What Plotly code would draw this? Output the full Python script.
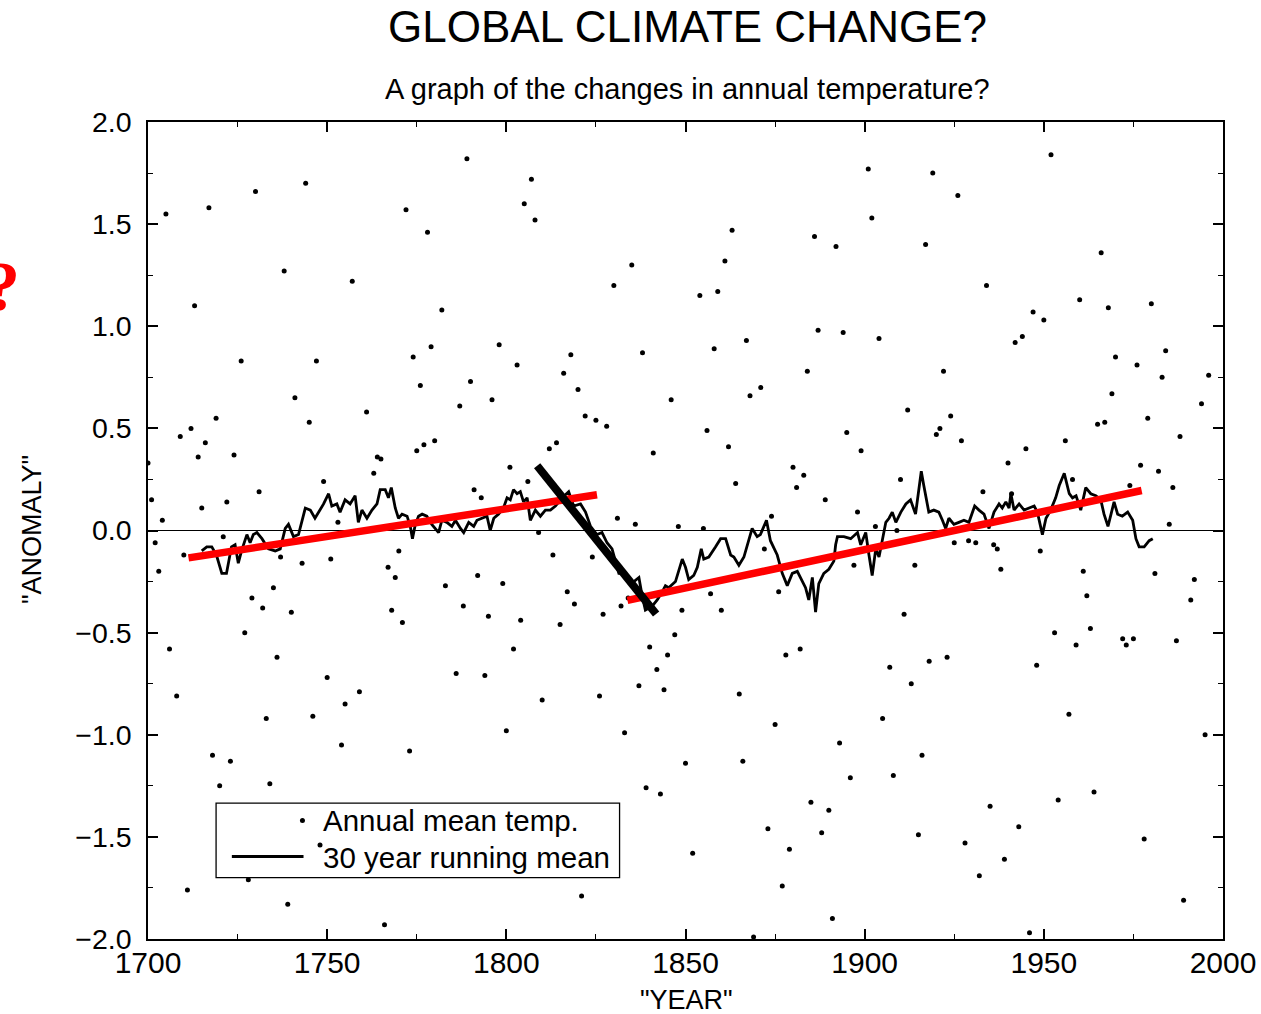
import plotly.graph_objects as go

# ---------------- data ----------------
# Annual mean temperature anomaly (dots)
annual_years = [
    1700, 1701, 1702, 1703, 1704, 1705, 1706, 1708, 1709,
    1710, 1711, 1712, 1713, 1714, 1715, 1716, 1717, 1718, 1719,
    1720, 1721, 1722, 1723, 1724, 1726, 1727, 1728, 1729,
    1730, 1731, 1732, 1733, 1734, 1735, 1736, 1737, 1738, 1739,
    1740, 1741, 1743, 1744, 1745, 1746, 1747, 1748, 1749,
    1750, 1751, 1753, 1754, 1755, 1757, 1759,
    1761, 1763, 1764, 1765, 1766, 1767, 1768, 1769,
    1770, 1771, 1772, 1773, 1774, 1775, 1776, 1777, 1778, 1779,
    1780, 1782, 1783, 1786, 1787, 1788, 1789,
    1790, 1791, 1792, 1793, 1794, 1795, 1796, 1798, 1799,
    1800, 1801, 1802, 1803, 1804, 1805, 1806, 1807, 1808, 1809,
    1810, 1812, 1813, 1814, 1815, 1816, 1817, 1818, 1819,
    1820, 1821, 1822, 1824, 1825, 1826, 1827, 1828,
    1830, 1831, 1832, 1833, 1834, 1835, 1836, 1837, 1838, 1839,
    1840, 1841, 1842, 1843, 1844, 1845, 1846, 1847, 1848, 1849,
    1850, 1852, 1854, 1855, 1856, 1857, 1858, 1859,
    1860, 1861, 1862, 1863, 1864, 1865, 1866, 1867, 1868, 1869,
    1871, 1872, 1873, 1874, 1875, 1876, 1877, 1878, 1879,
    1880, 1881, 1882, 1883, 1884, 1885, 1886, 1887, 1888, 1889,
    1890, 1891, 1892, 1893, 1894, 1895, 1896, 1897, 1898, 1899,
    1901, 1902, 1903, 1904, 1905, 1907, 1908, 1909,
    1910, 1911, 1912, 1913, 1914, 1915, 1916, 1917, 1918, 1919,
    1920, 1921, 1922, 1923, 1924, 1925, 1926, 1927, 1928, 1929,
    1931, 1932, 1933, 1934, 1935, 1936, 1937, 1938, 1939,
    1940, 1941, 1942, 1943, 1944, 1945, 1946, 1947, 1948, 1949,
    1950, 1952, 1953, 1954, 1956, 1957, 1958, 1959,
    1960, 1961, 1962, 1963, 1964, 1965, 1966, 1967, 1968, 1969,
    1970, 1972, 1973, 1974, 1975, 1976, 1977, 1978, 1979,
    1980, 1981, 1982, 1983, 1984, 1985, 1986, 1987, 1988, 1989,
    1991, 1992, 1994, 1995, 1996,
]
annual_values = [
    0.33, 0.15, -0.06, -0.20, 0.05, 1.55, -0.58, -0.81, 0.46,
    -0.12, -1.76, 0.50, 1.10, 0.36, 0.11, 0.43, 1.58, -1.10, 0.55,
    -1.25, -0.03, 0.14, -1.13, 0.37, 0.83, -0.50, -1.71, -0.33,
    1.66, 0.19, -0.38, -0.92, -1.24, -0.28, -0.62, -0.13, 1.27, -1.83,
    -0.40, 0.65, -0.16, 1.70, 0.53, -0.91, 0.83, -1.54, 0.24,
    -0.72, -0.14, 0.04, -1.05, -0.85, 1.22, -0.79,
    0.58, 0.28, 0.36, 0.35, -1.93, -0.18, -0.39, -0.23,
    -0.10, -0.45, 1.57, -1.08, 0.85, 0.39, 0.71, 0.42, 1.46, 0.90,
    0.44, 1.08, -0.27, -0.70, 0.61, -0.37, 1.82,
    0.73, 0.20, -0.22, 0.16, -0.71, -0.42, 0.64, 0.91, -0.26,
    -0.98, 0.31, -0.58, 0.81, -0.44, 1.60, 0.24, 1.72, 1.52, -0.01,
    -0.83, 0.40, -0.12, 0.43, -0.46, 0.77, -0.30, 0.86, -0.36,
    0.69, -1.79, 0.56, -0.13, 0.54, -0.81, -0.41, 0.51,
    1.20, 0.06, -0.37, -0.99, -0.33, 1.30, 0.03, -0.76, 0.87, -1.26,
    -0.57, 0.38, -0.68, -1.29, -0.78, -0.61, 0.64, -0.51, 0.02, -0.39,
    -1.14, -1.58, 1.15, 0.01, 0.49, -0.31, 0.89, 1.17,
    -0.39, 1.32, 0.41, 1.47, 0.23, -0.80, -1.13, 0.93, 0.66, -1.99,
    0.70, -0.09, -1.46, 0.07, -0.95, -0.30, -1.74, -0.61, -1.56,
    0.31, 0.21, -0.58, 0.27, 0.78, -1.33, 1.44, 0.98, -1.48, 0.15,
    -1.37, -1.90, 1.39, -1.04, 0.97, 0.48, -1.21, -0.17, 0.09, 0.39,
    1.77, 1.53, 0.02, 0.94, -0.92, -0.67, -1.20, 0.00,
    0.25, -0.41, 0.59, -0.75, -0.17, -1.49, -1.10, 1.40, -0.64, 1.75,
    0.47, 0.50, 0.78, -0.62, 0.56, -0.06, 1.64, 0.44, -1.53, -0.05,
    -0.06, -1.69, 0.19, 1.20, -1.35, -0.07, -0.09, -0.19, -1.61,
    0.33, 0.18, 0.92, -1.45, 0.95, 0.40, -1.97, 1.07, -0.66, -0.10,
    1.03, 1.84, -0.50, -1.32, 0.44, -0.90, 0.25, -0.56,
    1.13, -0.20, -0.32, -0.48, -1.28, 0.52, 1.36, 0.53, 1.09, 0.67,
    0.85, -0.53, -0.56, 0.22, -0.53, 0.81, 0.32, -1.51, 0.55,
    1.11, -0.21, 0.29, 0.75, 0.88, 0.03, 0.21, -0.54, 0.46, -1.81,
    -0.34, -0.24, 0.62, -1.00, 0.76,
]
assert len(annual_years) == len(annual_values)

# 30 year running mean (traced line)
rm_years = [
    1715.0, 1716.4, 1717.8, 1719.1, 1720.6, 1721.9, 1723.3, 1724.3, 1725.2, 1726.1,
    1727.6, 1728.5, 1729.4, 1730.4, 1731.8, 1733.6, 1735.5, 1736.9, 1738.3, 1739.2,
    1740.6, 1742.0, 1743.9, 1745.3, 1746.6, 1748.0, 1749.0, 1750.4, 1751.3, 1752.7,
    1753.6, 1755.0, 1756.4, 1757.8, 1758.7, 1759.7, 1761.1, 1762.5, 1763.9, 1764.8,
    1766.2, 1767.1, 1767.9, 1769.0, 1769.9, 1770.9, 1772.3, 1773.2, 1773.8, 1774.6,
    1775.5, 1776.5, 1777.8, 1779.2, 1781.1, 1782.0, 1783.4, 1784.8, 1785.8, 1787.2,
    1788.1, 1789.5, 1790.9, 1791.8, 1793.2, 1794.6, 1795.5, 1796.5, 1797.8, 1799.2,
    1800.2, 1801.1, 1802.0, 1803.0, 1803.9, 1804.8, 1805.8, 1806.7, 1808.1, 1809.5,
    1810.9, 1812.3, 1813.7, 1815.6, 1817.4, 1818.8, 1820.7, 1822.1, 1823.5, 1825.3,
    1826.7, 1828.1, 1829.5, 1831.4, 1832.8, 1834.2, 1835.6, 1837.0, 1837.9, 1838.8,
    1840.7, 1842.1, 1843.5, 1844.4, 1845.3, 1847.2, 1849.1, 1850.0, 1850.9, 1852.3,
    1853.3, 1854.4, 1855.1, 1856.5, 1858.4, 1859.8, 1861.2, 1862.6, 1863.5, 1864.9,
    1866.3, 1868.6, 1870.0, 1870.9, 1872.6, 1873.7, 1875.6, 1877.0, 1878.4, 1879.8,
    1881.2, 1882.6, 1883.5, 1884.4, 1885.4, 1886.3, 1887.2, 1888.6, 1890.0, 1891.4,
    1891.9, 1892.4, 1894.2, 1896.1, 1898.0, 1898.9, 1900.3, 1901.2, 1902.1, 1903.1,
    1904.0, 1904.9, 1905.9, 1906.8, 1907.7, 1908.7, 1910.1, 1911.5, 1912.8, 1914.2,
    1915.8, 1916.5, 1917.9, 1919.3, 1920.7, 1921.7, 1922.6, 1923.5, 1924.9, 1926.3,
    1927.7, 1929.1, 1930.7, 1931.9, 1933.3, 1934.7, 1936.1, 1937.5, 1938.4, 1939.4,
    1940.3, 1940.8, 1941.7, 1943.1, 1944.5, 1945.9, 1947.3, 1948.2, 1949.6, 1950.6,
    1951.9, 1953.3, 1954.3, 1955.7, 1957.1, 1958.0, 1959.0, 1960.3, 1961.7, 1963.1,
    1964.5, 1965.9, 1966.8, 1967.9, 1968.7, 1969.6, 1970.6, 1971.9, 1973.4, 1974.8,
    1975.7, 1976.6, 1978.0, 1979.4, 1980.4,
]
rm_values = [
    -0.10, -0.08, -0.08, -0.12, -0.21, -0.21, -0.08, -0.07, -0.16, -0.10,
    -0.02, -0.06, -0.02, -0.01, -0.04, -0.09, -0.10, -0.09, 0.01, 0.03,
    -0.03, -0.02, 0.11, 0.10, 0.06, 0.10, 0.13, 0.18, 0.12, 0.13,
    0.09, 0.15, 0.13, 0.17, 0.04, 0.10, 0.06, 0.10, 0.13, 0.20,
    0.20, 0.16, 0.21, 0.11, 0.06, 0.08, 0.07, 0.02, -0.04, 0.03,
    0.07, 0.08, 0.07, 0.03, -0.01, 0.05, 0.04, 0.02, 0.05, 0.01,
    -0.01, 0.04, 0.02, 0.05, 0.06, 0.07, 0.00, 0.06, 0.08, 0.11,
    0.16, 0.15, 0.20, 0.18, 0.19, 0.14, 0.16, 0.05, 0.10, 0.07,
    0.10, 0.10, 0.12, 0.16, 0.19, 0.12, 0.13, 0.09, 0.02, -0.02,
    -0.01, -0.06, -0.09, -0.21, -0.21, -0.25, -0.25, -0.23, -0.32, -0.39,
    -0.37, -0.34, -0.30, -0.27, -0.28, -0.25, -0.14, -0.18, -0.24, -0.22,
    -0.18, -0.09, -0.14, -0.13, -0.08, -0.04, -0.04, -0.12, -0.13, -0.17,
    -0.13, 0.01, -0.03, -0.02, 0.05, -0.05, -0.12, -0.21, -0.27, -0.21,
    -0.20, -0.25, -0.28, -0.34, -0.23, -0.40, -0.26, -0.21, -0.19, -0.15,
    -0.07, -0.03, -0.03, -0.04, -0.01, -0.07, -0.01, -0.12, -0.22, -0.09,
    -0.13, -0.05, 0.04, 0.06, 0.09, 0.04, 0.09, 0.13, 0.15, 0.08,
    0.29, 0.22, 0.09, 0.10, 0.09, 0.05, 0.01, 0.06, 0.03, 0.04,
    0.05, 0.04, 0.12, 0.10, 0.08, 0.01, 0.09, 0.13, 0.11, 0.14,
    0.11, 0.18, 0.10, 0.13, 0.10, 0.11, 0.12, 0.09, -0.02, 0.06,
    0.10, 0.16, 0.22, 0.28, 0.18, 0.16, 0.17, 0.10, 0.21, 0.18,
    0.17, 0.15, 0.08, 0.02, 0.08, 0.14, 0.08, 0.07, 0.09, 0.05,
    -0.04, -0.08, -0.08, -0.05, -0.04,
]
assert len(rm_years) == len(rm_values)

# Hand-drawn trend strokes over the chart
red_early_years = [1711.3, 1825.3]
red_early_values = [-0.134, 0.175]
red_late_years = [1833.8, 1977.3]
red_late_values = [-0.342, 0.196]
black_drop_years = [1808.6, 1841.8]
black_drop_values = [0.317, -0.409]

x_ticks = [1700, 1750, 1800, 1850, 1900, 1950, 2000]
y_ticks = [-2.0, -1.5, -1.0, -0.5, 0.0, 0.5, 1.0, 1.5, 2.0]

# ---------------- figure ----------------
FONT = "Liberation Sans, Arial, Helvetica, sans-serif"

fig = go.Figure()
fig.add_trace(go.Scatter(
    x=annual_years, y=annual_values, mode="markers",
    marker=dict(color="black", size=5), name="Annual mean temp.",
    showlegend=False, hoverinfo="skip"))
fig.add_trace(go.Scatter(
    x=rm_years, y=rm_values, mode="lines",
    line=dict(color="black", width=2.8), name="30 year running mean",
    showlegend=False, hoverinfo="skip"))
fig.add_trace(go.Scatter(
    x=red_early_years, y=red_early_values, mode="lines",
    line=dict(color="#ff0000", width=7.5), showlegend=False, hoverinfo="skip"))
fig.add_trace(go.Scatter(
    x=red_late_years, y=red_late_values, mode="lines",
    line=dict(color="#ff0000", width=7.5), showlegend=False, hoverinfo="skip"))
fig.add_trace(go.Scatter(
    x=black_drop_years, y=black_drop_values, mode="lines",
    line=dict(color="black", width=8), showlegend=False, hoverinfo="skip"))

axis_common = dict(
    automargin=False,
    showgrid=False, showline=True, linecolor="black", linewidth=1.5,
    mirror="allticks", ticks="inside", ticklen=10, tickwidth=1.5,
    tickcolor="black",
)

fig.update_xaxes(
    range=[1700, 2000], tickvals=x_ticks, zeroline=False,
    tickfont=dict(family=FONT, size=30, color="black"),
    minor=dict(ticks="inside", ticklen=5, tickwidth=1.2, tickcolor="black",
               dtick=25, tick0=1700, showgrid=False),
    ticklabelstandoff=-4,
    **axis_common)
fig.update_yaxes(
    range=[-2, 2], tickvals=y_ticks, tickformat=".1f",
    tickfont=dict(family=FONT, size=28.5, color="black"),
    zeroline=True, zerolinecolor="black", zerolinewidth=1.2,
    minor=dict(ticks="inside", ticklen=5, tickwidth=1.2, tickcolor="black",
               dtick=0.25, tick0=0, showgrid=False),
    ticklabelstandoff=9,
    **axis_common)

# custom legend box (drawn in data space, lower left)
shapes = [
    dict(type="rect", xref="x", yref="y", x0=1719.0, x1=1831.6, y0=-1.700, y1=-1.335,
         line=dict(color="black", width=1.3), fillcolor="rgba(0,0,0,0)", layer="above"),
    dict(type="line", xref="x", yref="y", x0=1723.4, x1=1743.4, y0=-1.596, y1=-1.596,
         line=dict(color="black", width=2.8), layer="above"),
    dict(type="circle", xref="x", yref="y", xsizemode="pixel", ysizemode="pixel",
         xanchor=1743.1, yanchor=-1.42, x0=-2.5, x1=2.5, y0=-2.5, y1=2.5,
         fillcolor="black", line=dict(color="black", width=0), layer="above"),
]

annotations = [
    dict(text="GLOBAL CLIMATE CHANGE?", xref="paper", yref="paper", x=0.5023, y=1.1163,
         xanchor="center", yanchor="middle", showarrow=False,
         font=dict(family=FONT, size=44, color="black")),
    dict(text="A graph of the changes in annual temperature?", xref="paper", yref="paper",
         x=0.5023, y=1.0404, xanchor="center", yanchor="middle", showarrow=False,
         font=dict(family=FONT, size=29, color="black")),
    dict(text='"YEAR"', xref="paper", yref="paper", x=0.5005, y=-0.0747,
         xanchor="center", yanchor="middle", showarrow=False,
         font=dict(family=FONT, size=27, color="black")),
    dict(text='"ANOMALY"', xref="paper", yref="paper", x=-0.1079, y=0.5006,
         xanchor="center", yanchor="middle", showarrow=False, textangle=-90,
         font=dict(family=FONT, size=27, color="black")),
    dict(text="Annual mean temp.", xref="x", yref="y", x=1748.3, y=-1.42,
         xanchor="left", yanchor="middle", showarrow=False,
         font=dict(family=FONT, size=29.5, color="black")),
    dict(text="30 year running mean", xref="x", yref="y", x=1748.3, y=-1.60,
         xanchor="left", yanchor="middle", showarrow=False,
         font=dict(family=FONT, size=29.5, color="black")),
    dict(text="<b>?</b>", xref="paper", yref="paper", x=-0.1358, y=0.799,
         xanchor="center", yanchor="middle", showarrow=False,
         font=dict(family="Liberation Serif, Times New Roman, serif", size=70, color="#ff0000")),
]

fig.update_layout(
    width=1261, height=1014,
    margin=dict(l=148, r=38, t=122, b=75, autoexpand=False),
    paper_bgcolor="white", plot_bgcolor="white",
    shapes=shapes, annotations=annotations,
    showlegend=False,
)

# the page body gets no default 8px margin, so the figure fills the window exactly
fig.write_html("out.html",
               config={"displayModeBar": False},
               post_script="document.body.style.margin='0px';document.body.style.padding='0px';")
